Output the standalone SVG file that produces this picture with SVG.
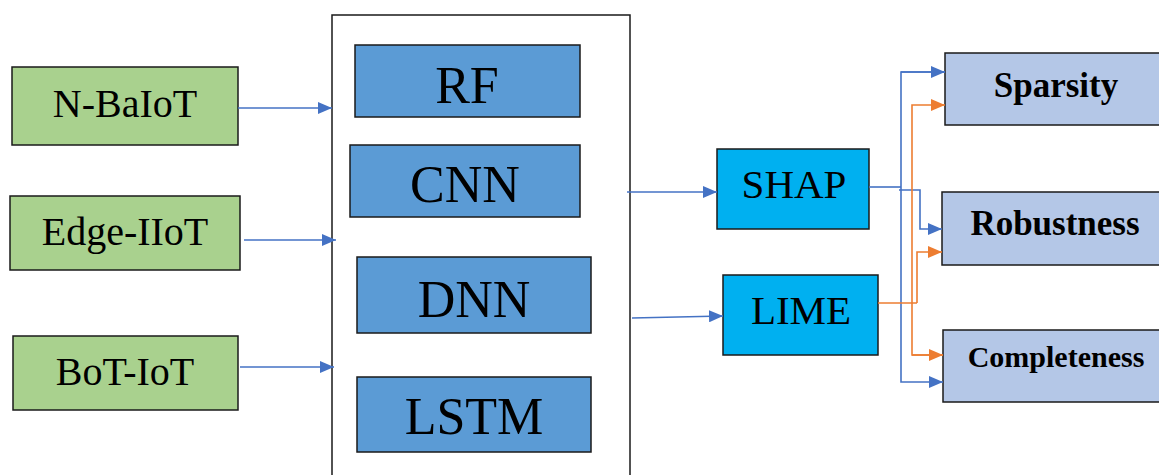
<svg xmlns="http://www.w3.org/2000/svg" width="1159" height="475" viewBox="0 0 1159 475">
<style>
.box{stroke:#1a1a1a;stroke-width:1.5}
.ds{fill:#A9D18E}
.md{fill:#5B9BD5}
.xp{fill:#00B0F0}
.mt{fill:#B4C7E7}
.t{font-family:'Liberation Serif','DejaVu Serif',serif;fill:#000;text-anchor:middle}
.mb{font-weight:bold}
.bl{stroke:#4472C4;stroke-width:1.6;fill:none}
.or{stroke:#ED7D31;stroke-width:1.6;fill:none}
</style>
<defs>
<marker id="ab" viewBox="0 0 14 12" refX="14" refY="6" markerWidth="14" markerHeight="12" markerUnits="userSpaceOnUse" orient="auto"><path d="M0,0 L14,6 L0,12 z" fill="#4472C4"/></marker>
<marker id="ao" viewBox="0 0 14 12" refX="14" refY="6" markerWidth="14" markerHeight="12" markerUnits="userSpaceOnUse" orient="auto"><path d="M0,0 L14,6 L0,12 z" fill="#ED7D31"/></marker>
</defs>
<rect width="1159" height="475" fill="#fff"/>
<g id="container"><rect x="332" y="15" width="298" height="470" fill="#fff" stroke="#1a1a1a" stroke-width="1.5"/></g>
<g id="n-baiot"><rect class="box ds" x="12" y="67" width="226" height="78"/><text class="t" x="125" y="117" font-size="40">N-BaIoT</text></g>
<g id="edge-iiot"><rect class="box ds" x="10" y="196" width="230" height="74"/><text class="t" x="125" y="245" font-size="40">Edge-IIoT</text></g>
<g id="bot-iot"><rect class="box ds" x="13" y="336" width="225" height="74"/><text class="t" x="125" y="385" font-size="40">BoT-IoT</text></g>
<g id="rf"><rect class="box md" x="355" y="45" width="225" height="72"/><text class="t" x="467" y="103" font-size="52">RF</text></g>
<g id="cnn"><rect class="box md" x="350" y="145" width="230" height="72"/><text class="t" x="465" y="202" font-size="52">CNN</text></g>
<g id="dnn"><rect class="box md" x="357" y="257" width="234" height="76"/><text class="t" x="474" y="317" font-size="52">DNN</text></g>
<g id="lstm"><rect class="box md" x="357" y="377" width="234" height="75"/><text class="t" x="474" y="434" font-size="52">LSTM</text></g>
<g id="shap"><rect class="box xp" x="717" y="149" width="152" height="80"/><text class="t" x="794" y="198" font-size="41">SHAP</text></g>
<g id="lime"><rect class="box xp" x="723" y="275" width="155" height="80"/><text class="t" x="801" y="324" font-size="41">LIME</text></g>
<g id="sparsity"><rect class="box mt" x="945" y="53" width="220" height="72"/><text class="t mb" x="1056" y="97" font-size="35">Sparsity</text></g>
<g id="robustness"><rect class="box mt" x="942" y="192" width="223" height="73"/><text class="t mb" x="1055" y="235" font-size="35">Robustness</text></g>
<g id="completeness"><rect class="box mt" x="943" y="330" width="222" height="72"/><text class="t mb" x="1056" y="367" font-size="30">Completeness</text></g>
<g id="connectors">
<line class="bl" x1="238" y1="108" x2="332" y2="108" marker-end="url(#ab)"/>
<line class="bl" x1="244" y1="240" x2="336" y2="240" marker-end="url(#ab)"/>
<line class="bl" x1="240" y1="367" x2="334" y2="367" marker-end="url(#ab)"/>
<line class="bl" x1="627" y1="192" x2="717" y2="192" marker-end="url(#ab)"/>
<line class="bl" x1="632" y1="318" x2="723" y2="316" marker-end="url(#ab)"/>
<path class="bl" d="M869,187 L901,187"/>
<path class="bl" d="M945,72 L901,72 L901,382 L943,382" marker-end="url(#ab)"/>
<path class="bl" d="M901,72 L945,72" marker-end="url(#ab)"/>
<path class="bl" d="M899,190 L920,190 L920,229 L942,229" marker-end="url(#ab)"/>
<path class="or" d="M878,303 L917,303"/>
<path class="or" d="M943,355 L912,355 L912,105 L945,105" marker-end="url(#ao)"/>
<path class="or" d="M912,355 L943,355" marker-end="url(#ao)"/>
<path class="or" d="M917,303 L917,252 L942,252" marker-end="url(#ao)"/>
</g>
</svg>
